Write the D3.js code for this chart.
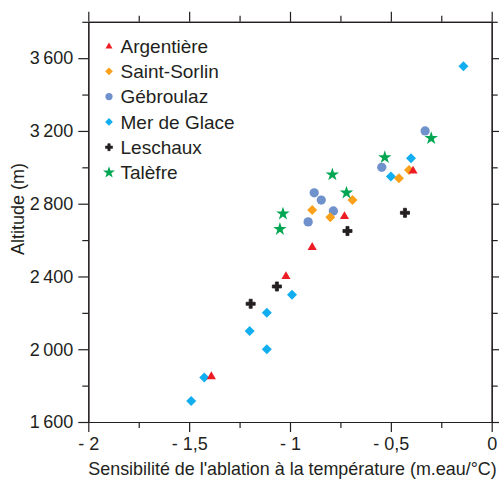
<!DOCTYPE html>
<html>
<head>
<meta charset="utf-8">
<script src="https://cdn.jsdelivr.net/npm/d3@7"></script>
<style>
  html, body { margin: 0; padding: 0; background: #fff; }
  svg { display: block; }
  text { font-family: "Liberation Sans", Arial, Helvetica, sans-serif; fill: #231f20; }
</style>
</head>
<body>
<svg id="chart" width="499" height="480"></svg>
<script>
// ---------- DATA ----------
const seriesNames = ["Argentière", "Saint-Sorlin", "Gébroulaz", "Mer de Glace", "Leschaux", "Talèfre"];

// [sensibilité (m.eau/°C), altitude (m)]
const argentiere = [[-0.73, 2730], [-0.89, 2560], [-0.39, 2980], [-1.02, 2400], [-1.39, 1850]];
const saintSorlin = [[-0.69, 2820], [-0.89, 2765], [-0.80, 2725], [-0.41, 2985], [-0.46, 2940]];
const gebroulaz = [[-0.88, 2860], [-0.845, 2820], [-0.785, 2760], [-0.91, 2700], [-0.33, 3200], [-0.545, 3000]];
const merDeGlace = [[-0.14, 3555], [-0.40, 3050], [-0.50, 2950], [-0.99, 2300], [-1.115, 2200], [-1.20, 2100], [-1.115, 2000], [-1.425, 1845], [-1.49, 1715]];
const leschaux = [[-0.715, 2650], [-0.43, 2750], [-1.065, 2345], [-1.195, 2250]];
const talefre = [[-0.79, 2960], [-0.72, 2860], [-1.035, 2745], [-1.05, 2660], [-0.30, 3160], [-0.53, 3055]];

const xTickValues = [-2, -1.5, -1, -0.5, 0];
const xTickLabels = ["- 2", "- 1,5", "- 1", "- 0,5", "0"];
const xMinorTicks = [-1.75, -1.25, -0.75, -0.25];
const yTickValues = [1600, 2000, 2400, 2800, 3200, 3600];
const yTickLabels = ["1\u2009600", "2\u2009000", "2\u2009400", "2\u2009800", "3\u2009200", "3\u2009600"];
const yMinorTicks = [1800, 2200, 2600, 3000, 3400, 3800];

const xTitle = "Sensibilité de l'ablation à la température (m.eau/°C)";
const yTitle = "Altitude (m)";

// ---------- STYLES ----------
const colors = {
  "Argentière": "#ed1c24",
  "Saint-Sorlin": "#f9a11b",
  "Gébroulaz": "#7092cc",
  "Mer de Glace": "#12aeef",
  "Leschaux": "#231f20",
  "Talèfre": "#00a651"
};
const shapes = {
  "Argentière": "triangle",
  "Saint-Sorlin": "diamond",
  "Gébroulaz": "circle",
  "Mer de Glace": "diamond",
  "Leschaux": "cross",
  "Talèfre": "star"
};
const seriesData = {
  "Argentière": argentiere,
  "Saint-Sorlin": saintSorlin,
  "Gébroulaz": gebroulaz,
  "Mer de Glace": merDeGlace,
  "Leschaux": leschaux,
  "Talèfre": talefre
};

const svg = d3.select("#chart");
const axisColor = "#231f20";

const x = d3.scaleLinear().domain([-2, 0]).range([88.3, 491.7]);
const y = d3.scaleLinear().domain([1600, 3800]).range([422, 21.8]);

function symbolPath(shape, scale) {
  const s = scale || 1;
  let sym, size, rot = 0;
  if (shape === "triangle") { sym = d3.symbolTriangle; size = 36 * s; }
  else if (shape === "diamond") { sym = d3.symbolSquare; size = 50 * s; rot = 45; }
  else if (shape === "circle") { sym = d3.symbolCircle; size = 68 * s; }
  else if (shape === "cross") { sym = d3.symbolCross; size = 46 * s; }
  else { sym = d3.symbolStar; size = 56 * s; }
  return { d: d3.symbol().type(sym).size(size)(), rot, cross: shape === "cross" };
}

// ---------- AXES ----------
function styleAxis(g) {
  g.selectAll("path.domain").attr("stroke", axisColor).attr("stroke-width", 1.2);
  g.selectAll(".tick line").attr("stroke", axisColor).attr("stroke-width", 1.2);
}

// bottom major
const gb = svg.append("g").attr("transform", `translate(0,${y(1600)})`)
  .call(d3.axisBottom(x).tickValues(xTickValues).tickSize(10).tickSizeOuter(0)
    .tickFormat((d, i) => xTickLabels[i]).tickPadding(5));
styleAxis(gb);
gb.selectAll(".tick text").attr("font-size", 18).attr("fill", axisColor)
  .attr("font-family", "Liberation Sans, Arial, sans-serif");
// bottom minor
styleAxis(svg.append("g").attr("transform", `translate(0,${y(1600)})`)
  .call(d3.axisBottom(x).tickValues(xMinorTicks).tickSize(6).tickSizeOuter(0).tickFormat("")));
// top
styleAxis(svg.append("g").attr("transform", `translate(0,${y(3800)})`)
  .call(d3.axisTop(x).tickValues(xTickValues).tickSize(10).tickSizeOuter(0).tickFormat("")));
styleAxis(svg.append("g").attr("transform", `translate(0,${y(3800)})`)
  .call(d3.axisTop(x).tickValues(xMinorTicks).tickSize(6).tickSizeOuter(0).tickFormat("")));
// left
const gl = svg.append("g").attr("transform", `translate(${x(-2)},0)`)
  .call(d3.axisLeft(y).tickValues(yTickValues).tickSize(10).tickSizeOuter(0)
    .tickFormat((d, i) => yTickLabels[i]).tickPadding(5));
styleAxis(gl);
gl.selectAll(".tick text").attr("font-size", 18).attr("fill", axisColor)
  .attr("font-family", "Liberation Sans, Arial, sans-serif");
styleAxis(svg.append("g").attr("transform", `translate(${x(-2)},0)`)
  .call(d3.axisLeft(y).tickValues(yMinorTicks).tickSize(6).tickSizeOuter(0).tickFormat("")));
// right
styleAxis(svg.append("g").attr("transform", `translate(${x(0)},0)`)
  .call(d3.axisRight(y).tickValues(yTickValues).tickSize(10).tickSizeOuter(0).tickFormat("")));
styleAxis(svg.append("g").attr("transform", `translate(${x(0)},0)`)
  .call(d3.axisRight(y).tickValues(yMinorTicks).tickSize(6).tickSizeOuter(0).tickFormat("")));

// axis titles
svg.append("text").attr("x", (x(-2) + x(0)) / 2 + 2.5).attr("y", 474.5)
  .attr("text-anchor", "middle").attr("font-size", 17.9).text(xTitle);
svg.append("text").attr("transform", `translate(24,${209}) rotate(-90)`)
  .attr("text-anchor", "middle").attr("font-size", 18).text(yTitle);

// ---------- POINTS ----------
const drawOrder = ["Gébroulaz", "Mer de Glace", "Saint-Sorlin", "Argentière", "Leschaux", "Talèfre"];
drawOrder.forEach(name => {
  const sp = symbolPath(shapes[name], 1);
  svg.append("g").selectAll("path").data(seriesData[name]).join("path")
    .attr("d", sp.d)
    .attr("transform", d => `translate(${x(d[0])},${y(d[1])}) rotate(${sp.rot})`)
    .attr("fill", colors[name])
    .attr("stroke", sp.cross ? colors[name] : "none")
    .attr("stroke-width", sp.cross ? 0.8 : 0)
    .attr("stroke-linejoin", "round");
});

// ---------- LEGEND ----------
const legendY0 = 46, legendDy = 25.3;
const legend = svg.append("g");
seriesNames.forEach((name, i) => {
  const cy = legendY0 + i * legendDy;
  const sc = shapes[name] === "star" ? 0.8 : 0.6;
  const sp = symbolPath(shapes[name], sc);
  legend.append("path").attr("d", sp.d)
    .attr("transform", `translate(109,${cy + (shapes[name] === "triangle" ? 0.5 : 0)}) rotate(${sp.rot})`)
    .attr("fill", colors[name])
    .attr("stroke", sp.cross ? colors[name] : "none")
    .attr("stroke-width", sp.cross ? 0.6 : 0)
    .attr("stroke-linejoin", "round");
  legend.append("text").attr("x", 120.5).attr("y", cy + 6.7)
    .attr("font-size", 19).text(name);
});
</script>
</body>
</html>
